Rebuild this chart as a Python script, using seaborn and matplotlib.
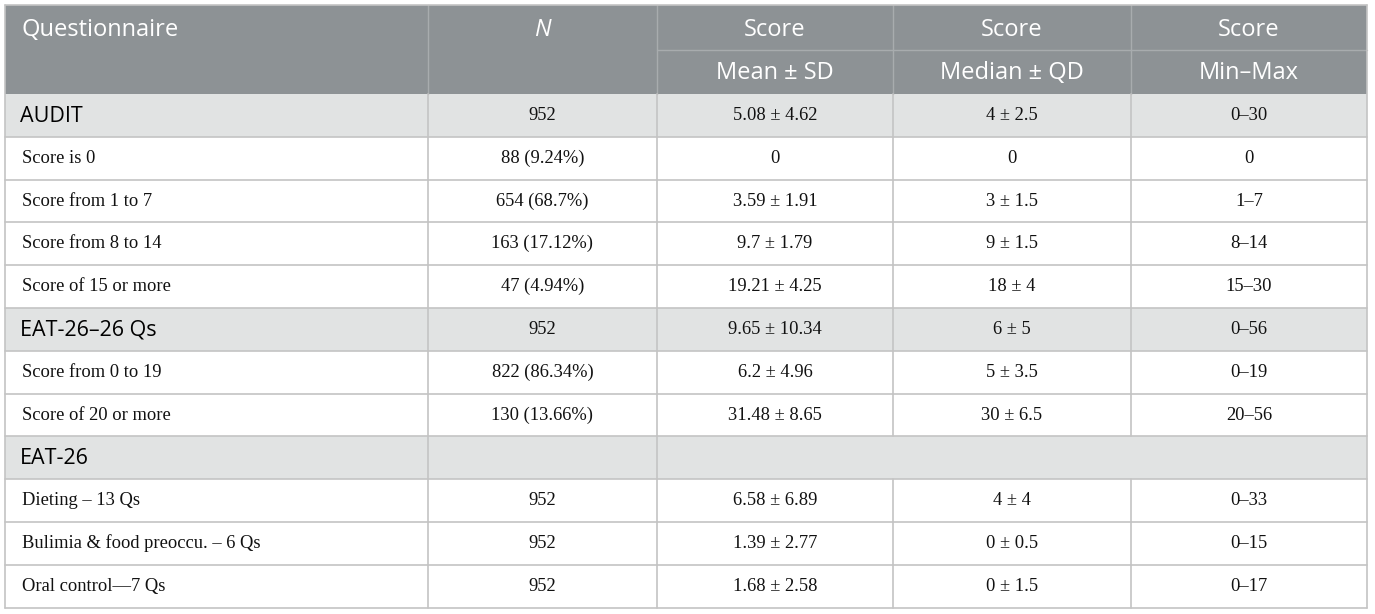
#!/usr/bin/env python3
"""Questionnaire score summary table (AUDIT / EAT-26)."""

import matplotlib.pyplot as plt
from matplotlib.patches import Rectangle
import seaborn as sns

# Table content
HEADER_TOP = ["Questionnaire", "N", "Score", "Score", "Score"]
HEADER_SUB = ["", "", "Mean \u00b1 SD", "Median \u00b1 QD", "Min\u2013Max"]

ROW_LABELS = [
    "AUDIT",
    "Score is 0",
    "Score from 1 to 7",
    "Score from 8 to 14",
    "Score of 15 or more",
    "EAT-26\u201326 Qs",
    "Score from 0 to 19",
    "Score of 20 or more",
    "EAT-26",
    "Dieting \u2013 13 Qs",
    "Bulimia & food preoccu. \u2013 6 Qs",
    "Oral control\u20147 Qs",
]
IS_SECTION = [True, False, False, False, False, True, False, False, True, False, False, False]

N_VALUES = ["952", "88 (9.24%)", "654 (68.7%)", "163 (17.12%)", "47 (4.94%)",
            "952", "822 (86.34%)", "130 (13.66%)", "", "952", "952", "952"]
MEAN_SD = ["5.08 \u00b1 4.62", "0", "3.59 \u00b1 1.91", "9.7 \u00b1 1.79", "19.21 \u00b1 4.25",
           "9.65 \u00b1 10.34", "6.2 \u00b1 4.96", "31.48 \u00b1 8.65", "",
           "6.58 \u00b1 6.89", "1.39 \u00b1 2.77", "1.68 \u00b1 2.58"]
MEDIAN_QD = ["4 \u00b1 2.5", "0", "3 \u00b1 1.5", "9 \u00b1 1.5", "18 \u00b1 4",
             "6 \u00b1 5", "5 \u00b1 3.5", "30 \u00b1 6.5", "",
             "4 \u00b1 4", "0 \u00b1 0.5", "0 \u00b1 1.5"]
MIN_MAX = ["0\u201330", "0", "1\u20137", "8\u201314", "15\u201330",
           "0\u201356", "0\u201319", "20\u201356", "",
           "0\u201333", "0\u201315", "0\u201317"]

# Layout (pixel space)
COL_EDGES = [5, 428, 657, 893, 1131, 1367]
TOP = 5
HEAD_SPLIT = 50
HEAD_BOTTOM = 94
ROW_H = 42.8

HEADER_BG = "#8D9295"
HEADER_LINE = "#A8ACAE"
SECTION_BG = "#E1E3E3"
GRID = "#C4C4C4"

sns.set_style("white")
plt.rcParams["font.family"] = ["Open Sans", "DejaVu Sans"]

fig = plt.figure(figsize=(13.75, 6.14), dpi=100)
ax = fig.add_axes([0, 0, 1, 1])
ax.set_xlim(0, 1375)
ax.set_ylim(614, 0)
ax.axis("off")

left, right = COL_EDGES[0], COL_EDGES[-1]
n_rows = len(ROW_LABELS)
bottom = HEAD_BOTTOM + ROW_H * n_rows

# header block
ax.add_patch(Rectangle((left, TOP), right - left, HEAD_BOTTOM - TOP,
                       facecolor=HEADER_BG, edgecolor="none", zorder=1))
ax.plot([COL_EDGES[2], right], [HEAD_SPLIT, HEAD_SPLIT], color=HEADER_LINE, lw=1, zorder=2)
for x in COL_EDGES[1:-1]:
    ax.plot([x, x], [TOP, HEAD_BOTTOM], color=HEADER_LINE, lw=1, zorder=2)

for i, (top_txt, sub_txt) in enumerate(zip(HEADER_TOP, HEADER_SUB)):
    x0, x1 = COL_EDGES[i], COL_EDGES[i + 1]
    if i == 0:
        xt, ha = x0 + 17, "left"
    else:
        xt, ha = (x0 + x1) / 2, "center"
    style = "italic" if top_txt == "N" else "normal"
    ax.text(xt, (TOP + HEAD_SPLIT) / 2 + 2, top_txt, ha=ha, va="center",
            fontsize=17, color="white", style=style, zorder=3)
    if sub_txt:
        ax.text(xt, (HEAD_SPLIT + HEAD_BOTTOM) / 2 + 1, sub_txt, ha=ha, va="center",
                fontsize=17, color="white", zorder=3)

# body rows
columns = [N_VALUES, MEAN_SD, MEDIAN_QD, MIN_MAX]
for r, label in enumerate(ROW_LABELS):
    y0 = HEAD_BOTTOM + ROW_H * r
    y1 = y0 + ROW_H
    yc = (y0 + y1) / 2
    if IS_SECTION[r]:
        ax.add_patch(Rectangle((left, y0), right - left, ROW_H,
                               facecolor=SECTION_BG, edgecolor="none", zorder=1))
        ax.text(COL_EDGES[0] + 15, yc + 1, label, ha="left", va="center",
                fontsize=15.5, color="black", zorder=3)
    else:
        ax.text(COL_EDGES[0] + 17, yc, label, ha="left", va="center",
                fontsize=13.3, family="Liberation Serif", color="#111111", zorder=3)
    ax.plot([left, right], [y1, y1], color=GRID, lw=1.2, zorder=2)

    empty_row = all(col[r] == "" for col in columns)
    # vertical separators (merged score cells on empty rows)
    vlines = COL_EDGES[1:3] if empty_row else COL_EDGES[1:-1]
    for x in vlines:
        ax.plot([x, x], [y0, y1], color=GRID, lw=1.2, zorder=2)

    for c, col in enumerate(columns):
        if col[r]:
            xc = (COL_EDGES[c + 1] + COL_EDGES[c + 2]) / 2
            ax.text(xc, yc, col[r], ha="center", va="center",
                    fontsize=13.3, family="Liberation Serif", color="#111111", zorder=3)

# outer frame
ax.plot([left, left], [TOP, bottom], color=GRID, lw=1.2, zorder=2)
ax.plot([right, right], [TOP, bottom], color=GRID, lw=1.2, zorder=2)
ax.plot([left, right], [TOP, TOP], color=GRID, lw=1.2, zorder=2)

fig.savefig("out.png", dpi=100)
